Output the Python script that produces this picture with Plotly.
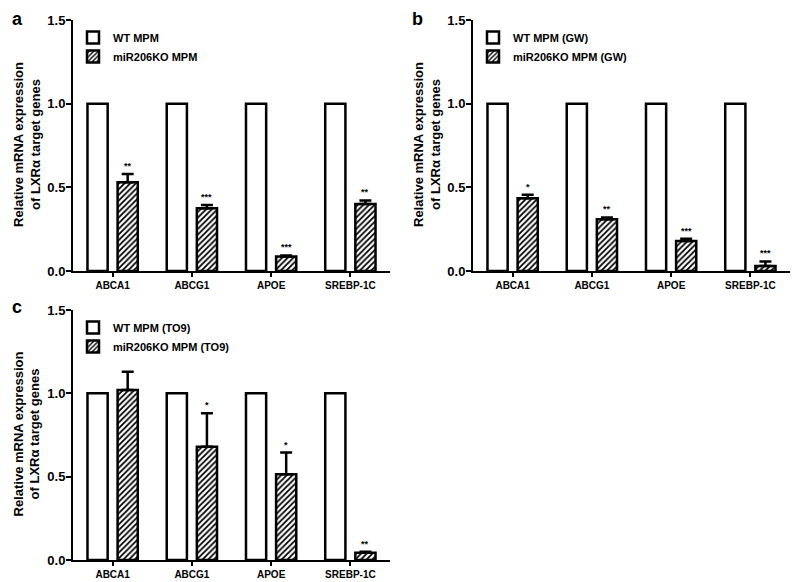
import plotly.graph_objects as go

genes = ["ABCA1", "ABCG1", "APOE", "SREBP-1C"]

wt_a = [1.0, 1.0, 1.0, 1.0]
ko_a = [0.53, 0.375, 0.087, 0.40]
ko_a_err = [0.05, 0.02, 0.006, 0.022]
sig_a = ["**", "***", "***", "**"]

wt_b = [1.0, 1.0, 1.0, 1.0]
ko_b = [0.435, 0.31, 0.18, 0.03]
ko_b_err = [0.02, 0.01, 0.012, 0.027]
sig_b = ["*", "**", "***", "***"]

wt_c = [1.0, 1.0, 1.0, 1.0]
ko_c = [1.02, 0.68, 0.515, 0.043]
ko_c_err = [0.11, 0.2, 0.13, 0.006]
sig_c = ["", "*", "*", "**"]

y_title = "Relative mRNA expression<br>of LXRα target genes"

panels = [
    dict(letter="a", wt=wt_a, ko=ko_a, err=ko_a_err, sig=sig_a,
         wt_name="WT MPM", ko_name="miR206KO MPM"),
    dict(letter="b", wt=wt_b, ko=ko_b, err=ko_b_err, sig=sig_b,
         wt_name="WT MPM (GW)", ko_name="miR206KO MPM (GW)"),
    dict(letter="c", wt=wt_c, ko=ko_c, err=ko_c_err, sig=sig_c,
         wt_name="WT MPM (TO9)", ko_name="miR206KO MPM (TO9)"),
]

W, H = 800, 582
FONT = "Liberation Sans, Arial, sans-serif"

# pixel boxes (left, right, top, bottom) for each panel's plot area
boxes = [(73, 390, 20, 271), (473, 790, 20, 271), (73, 390, 310, 560)]
# pixel centre of panel letters
letter_pos = [(17.5, 18.5), (417.5, 18.5), (17, 307)]

fig = go.Figure()
layout = dict(
    template="none",
    width=W, height=H, autosize=False,
    margin=dict(l=0, r=0, t=0, b=0, pad=0),
    paper_bgcolor="white", plot_bgcolor="white",
    barmode="group", bargap=0.24, bargroupgap=0.33,
    font=dict(family=FONT, color="black"),
    showlegend=True,
)
annotations = []

for i, p in enumerate(panels):
    n = "" if i == 0 else str(i + 1)
    xa, ya = "x" + n, "y" + n
    lg = "legend" + n
    l, r, t, b = boxes[i]
    fig.add_trace(go.Bar(
        x=genes, y=p["wt"], name=p["wt_name"], xaxis=xa, yaxis=ya, legend=lg,
        marker=dict(color="white", line=dict(color="black", width=2.5)),
        hoverinfo="x+y",
    ))
    fig.add_trace(go.Bar(
        x=genes, y=p["ko"], name=p["ko_name"], xaxis=xa, yaxis=ya, legend=lg,
        marker=dict(color="white", line=dict(color="black", width=2.5),
                    pattern=dict(shape="/", fgcolor="black", bgcolor="white",
                                 size=4, solidity=0.45)),
        error_y=dict(type="data", array=p["err"], arrayminus=[0] * len(genes),
                     symmetric=False, color="black", thickness=2.5, width=6),
        hoverinfo="x+y",
    ))
    layout["xaxis" + n] = dict(
        domain=[l / W, r / W], anchor=ya, automargin=False,
        showline=True, linecolor="black", linewidth=2,
        ticks="outside", ticklen=4, tickwidth=1.5, tickcolor="black",
        tickfont=dict(size=10, family=FONT, weight="bold"),
        showgrid=False, zeroline=False, fixedrange=True,
    )
    layout["yaxis" + n] = dict(
        domain=[1 - b / H, 1 - t / H], anchor=xa, automargin=False,
        range=[0, 1.5], tickvals=[0, 0.5, 1.0, 1.5], tickformat=".1f",
        showline=True, linecolor="black", linewidth=2,
        ticks="outside", ticklen=5, tickwidth=2, tickcolor="black",
        tickfont=dict(size=13, family=FONT, weight="bold"),
        ticklabelstandoff=-2,
        showgrid=False, zeroline=False, fixedrange=True,
    )
    layout[lg] = dict(
        x=l / W, y=1 - (t + 3) / H, xanchor="left", yanchor="top",
        bgcolor="rgba(0,0,0,0)", borderwidth=0,
        font=dict(size=11, family=FONT, weight="bold"),
        itemwidth=30, tracegroupgap=0,
    )
    # y-axis title
    annotations.append(dict(
        text=y_title, xref="paper", yref="paper",
        x=(l - 46.5) / W, y=1 - ((t + b) / 2 - 1) / H,
        xanchor="center", yanchor="middle", textangle=-90, showarrow=False,
        font=dict(size=13, family=FONT, weight="bold"),
    ))
    lx, ly = letter_pos[i]
    annotations.append(dict(
        text=p["letter"], xref="paper", yref="paper",
        x=lx / W, y=1 - ly / H, xanchor="center", yanchor="middle",
        showarrow=False, font=dict(size=18, family=FONT, weight="bold"),
    ))
    for g, v, e, s in zip(genes, p["ko"], p["err"], p["sig"]):
        if s:
            annotations.append(dict(
                text=s, x=g, y=v + e, xref=xa, yref=ya, xshift=15, yshift=1,
                xanchor="center", yanchor="bottom", showarrow=False,
                font=dict(size=9, family=FONT, weight="bold"),
            ))

layout["annotations"] = annotations
fig.update_layout(**layout)
fig.write_html(
    "out.html",
    config={"displayModeBar": False, "responsive": False},
    post_script="document.body.style.margin='0';document.body.style.overflow='hidden';",
)
